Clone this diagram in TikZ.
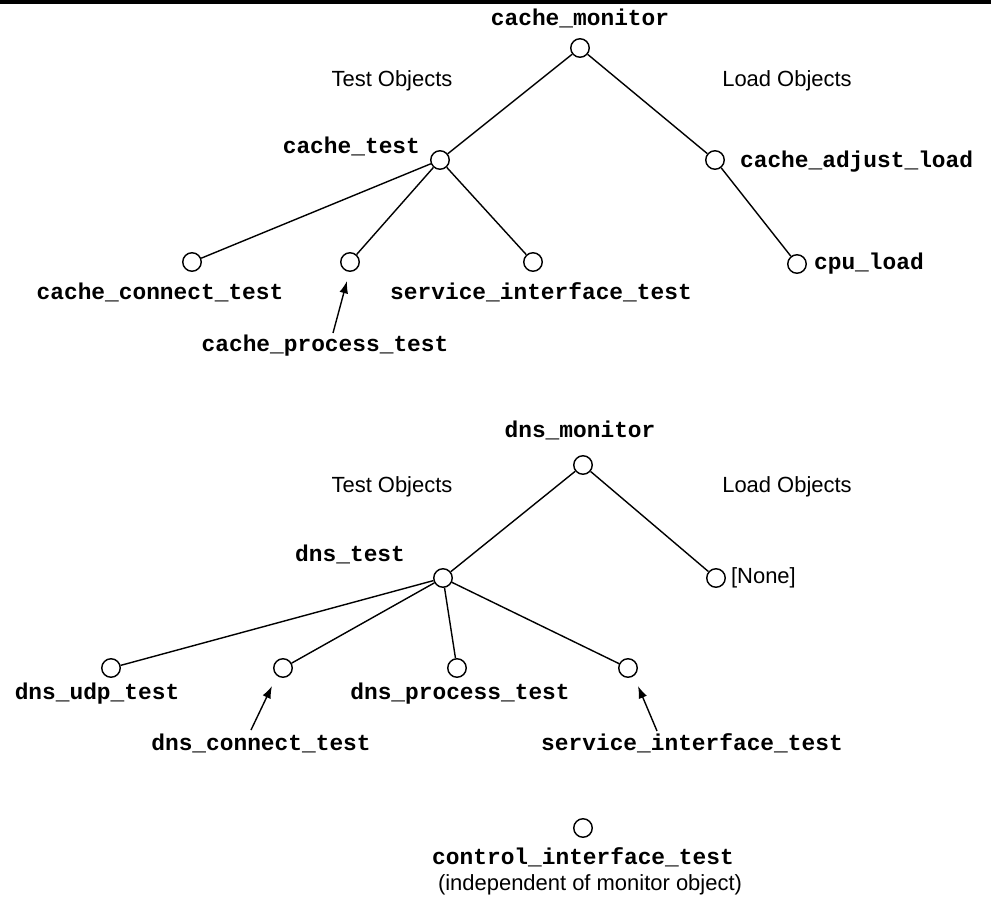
\documentclass[tikz,border=0pt]{standalone}
\usepackage{fontspec}
\setmainfont{Liberation Sans}
\setmonofont{Liberation Mono}
\usetikzlibrary{arrows.meta}

\begin{document}
\begin{tikzpicture}[x=0.02cm,y=-0.02cm,
    obj/.style={circle,draw,line width=0.8pt,minimum size=0.37cm,inner sep=0pt},
    lbl/.style={font=\ttfamily\bfseries\fontsize{13}{15}\selectfont,inner sep=1pt},
    grp/.style={font=\fontsize{12.5}{14}\selectfont,inner sep=1pt},
    link/.style={line width=0.8pt},
    pointer/.style={line width=0.8pt,-{Latex[length=7pt,width=5pt]}}]
    \useasboundingbox (0,0) rectangle (991,905);
    \draw[line width=0.08cm] (0,2) -- (991,2);

    % cache monitor tree
    \node[lbl] (cmonl) at (580,18) {cache\_monitor};
    \node[obj] (cmon) at (580,48) {};
    \node[grp] (ctesto) at (392,81) {Test Objects};
    \node[grp] (cloado) at (787,81) {Load Objects};
    \node[obj] (ctest) at (440,160) {};
    \node[lbl,anchor=east] (ctestl) at (422,146) {cache\_test};
    \node[obj] (cadj) at (715,160) {};
    \node[lbl,anchor=west] (cadjl) at (738,162) {cache\_adjust\_load};
    \node[obj] (cconn) at (192,262) {};
    \node[lbl] (cconnl) at (160,292) {cache\_connect\_test};
    \node[obj] (cproc) at (350,262) {};
    \node[lbl] (cprocl) at (325,346) {cache\_process\_test};
    \node[obj] (csvc) at (533,262) {};
    \node[lbl] (csvcl) at (541,292) {service\_interface\_test};
    \node[obj] (ccpu) at (797,264) {};
    \node[lbl,anchor=west] (ccpul) at (812,264) {cpu\_load};
    \draw[link] (cmon) -- (ctest);
    \draw[link] (cmon) -- (cadj);
    \draw[link] (cadj) -- (ccpu);
    \draw[link] (ctest) -- (cconn);
    \draw[link] (ctest) -- (cproc);
    \draw[link] (ctest) -- (csvc);
    \coordinate (cpa) at (333,333);
    \draw[pointer] (cpa) -- (347,281);

    % dns monitor tree
    \node[lbl] (dmonl) at (580,430) {dns\_monitor};
    \node[obj] (dmon) at (583,465) {};
    \node[grp] (dtesto) at (392,487) {Test Objects};
    \node[grp] (dloado) at (787,487) {Load Objects};
    \node[obj] (dtest) at (443,578) {};
    \node[lbl,anchor=east] (dtestl) at (407,554) {dns\_test};
    \node[obj] (dnone) at (716,578) {};
    \node[grp,anchor=west] (dnonel) at (729,578) {[None]};
    \node[obj] (dudp) at (111,668) {};
    \node[lbl] (dudpl) at (97,694) {dns\_udp\_test};
    \node[obj] (dconn) at (283,668) {};
    \node[lbl] (dconnl) at (261,743) {dns\_connect\_test};
    \node[obj] (dproc) at (457,668) {};
    \node[lbl] (dprocl) at (460,694) {dns\_process\_test};
    \node[obj] (dsvc) at (628,668) {};
    \node[lbl] (dsvcl) at (692,743) {service\_interface\_test};
    \draw[link] (dmon) -- (dtest);
    \draw[link] (dmon) -- (dnone);
    \draw[link] (dtest) -- (dudp);
    \draw[link] (dtest) -- (dconn);
    \draw[link] (dtest) -- (dproc);
    \draw[link] (dtest) -- (dsvc);
    \coordinate (dca) at (251,730);
    \coordinate (dsa) at (657,731);
    \draw[pointer] (dca) -- (272,686);
    \draw[pointer] (dsa) -- (638,686);

    % stand-alone object
    \node[obj] (ctrl) at (583,828) {};
    \node[lbl] (ctrll) at (583,857) {control\_interface\_test};
    \node[grp] (ctrln) at (590,885) {(independent of monitor object)};
\end{tikzpicture}
\end{document}
